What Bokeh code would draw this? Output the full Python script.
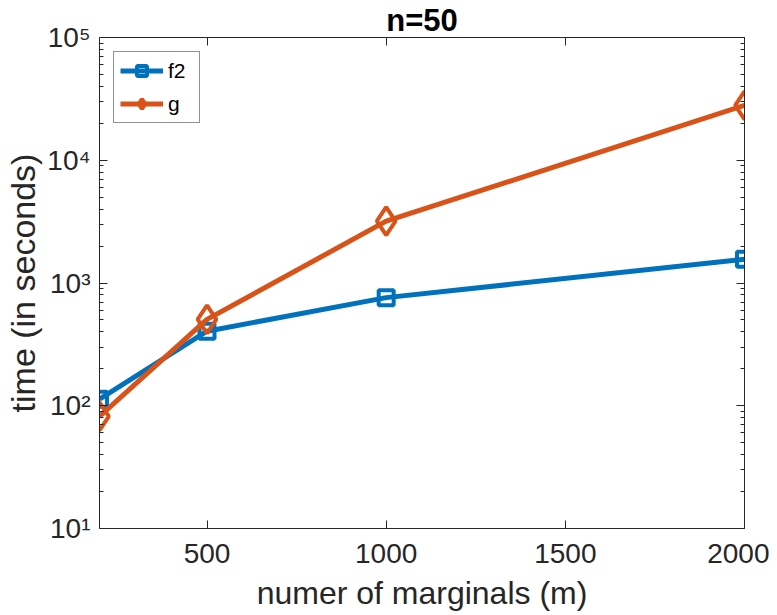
from bokeh.plotting import figure
from bokeh.models import (LogAxis, LinearAxis, FixedTicker, Legend, LegendItem,
                          Range1d, CustomJSTickFormatter)
from bokeh.embed import file_html
from bokeh.resources import INLINE

# ---- data ----
m_values = [200, 500, 1000, 2000]
f2_times = [113, 405, 760, 1560]
g_times = [82, 505, 3190, 28000]
x_ticks = [500, 1000, 1500, 2000]
y_ticks = [10, 100, 1000, 10000, 100000]
y_tick_labels = ["10\u00b9", "10\u00b2", "10\u00b3", "10\u2074", "10\u2075"]
title_text = "n=50"
x_label = "numer of marginals (m)"
y_label = "time (in seconds)"

BLUE = "#0072BD"
ORANGE = "#D95319"
AX = "#262626"
FONT = "Liberation Sans"

y_minor = [k * 10 ** e for e in range(1, 5) for k in range(2, 10)]

p = figure(width=769, height=613, x_range=Range1d(200, 2000), y_range=Range1d(10, 1e5),
           y_axis_type="log", output_backend="svg", toolbar_location=None,
           min_border_left=99, min_border_right=25, min_border_top=37, min_border_bottom=84)
p.grid.visible = False
p.outline_line_color = None
p.background_fill_color = "white"
p.border_fill_color = "white"

p.title.text = title_text
p.title.align = "center"
p.title.text_font = FONT
p.title.text_font_size = "31px"
p.title.text_font_style = "bold"
p.title.text_color = "#000000"
p.title.standoff = 0

# bottom x axis
xa = p.xaxis[0]
xa.ticker = FixedTicker(ticks=x_ticks)
xa.axis_label = x_label
xa.axis_label_text_font = FONT
xa.axis_label_text_font_size = "32px"
xa.axis_label_text_font_style = "normal"
xa.axis_label_text_color = AX
xa.axis_label_standoff = 9
xa.major_label_text_font = FONT
xa.major_label_text_font_size = "28px"
xa.major_label_text_color = AX
xa.major_label_standoff = 15
xa.major_tick_in = 8
xa.major_tick_out = 0
xa.minor_tick_line_color = None
xa.axis_line_color = AX
xa.major_tick_line_color = AX

# left y axis
ya = p.yaxis[0]
ya.ticker = FixedTicker(ticks=y_ticks, minor_ticks=y_minor)
ya.major_label_overrides = {t: lab for t, lab in zip(y_ticks, y_tick_labels)}
ya.axis_label = y_label
ya.axis_label_text_font = FONT
ya.axis_label_text_font_size = "34px"
ya.axis_label_text_font_style = "normal"
ya.axis_label_text_color = AX
ya.axis_label_standoff = 2
ya.major_label_text_font = FONT
ya.major_label_text_font_size = "28px"
ya.major_label_text_color = AX
ya.major_label_standoff = 9
ya.major_tick_in = 8
ya.major_tick_out = 0
ya.minor_tick_in = 4
ya.minor_tick_out = 0
ya.axis_line_color = AX
ya.major_tick_line_color = AX
ya.minor_tick_line_color = AX

blank = CustomJSTickFormatter(code="return ''")

# right y axis (box)
ra = LogAxis(ticker=FixedTicker(ticks=y_ticks, minor_ticks=y_minor),
             formatter=blank, major_tick_in=8, major_tick_out=0, minor_tick_in=4, minor_tick_out=0,
             axis_line_color=AX, major_tick_line_color=AX, minor_tick_line_color=AX,
             major_label_standoff=0)
p.add_layout(ra, "right")

# top x axis (box)
ta = LinearAxis(ticker=FixedTicker(ticks=x_ticks), formatter=blank, major_tick_in=8,
                major_tick_out=0, minor_tick_line_color=None, axis_line_color=AX,
                major_tick_line_color=AX, major_label_standoff=0)
p.add_layout(ta, "above")

# series
l1 = p.line(m_values, f2_times, line_color=BLUE, line_width=5)
s1 = p.scatter(m_values, f2_times, marker="square", size=15, fill_color=None,
               line_color=BLUE, line_width=4)
l2 = p.line(m_values, g_times, line_color=ORANGE, line_width=5)
s2 = p.scatter(m_values, g_times, marker="diamond", size=28, fill_color=None,
               line_color=ORANGE, line_width=4)

legend = Legend(items=[LegendItem(label="f2", renderers=[l1, s1]),
                       LegendItem(label="g", renderers=[l2, s2])],
                location="top_left", margin=14, padding=6, spacing=8,
                glyph_width=43, glyph_height=25, label_height=25, label_width=25,
                label_standoff=5, label_text_font=FONT, label_text_font_size="21px",
                label_text_color="#000000", border_line_color=AX, border_line_width=1,
                background_fill_color="white", background_fill_alpha=1)
p.add_layout(legend, "center")

open("out.html", "w").write(file_html(p, INLINE))
